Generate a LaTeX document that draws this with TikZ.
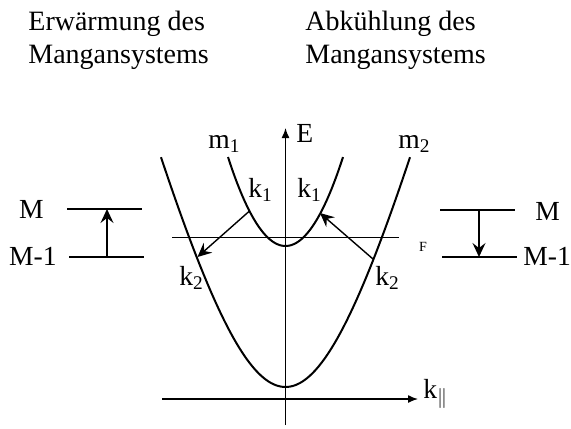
\documentclass[tikz,border=0pt]{standalone}
\usepackage{fontspec}
\setmainfont{Liberation Serif}
\usetikzlibrary{arrows.meta}
\tikzset{
  bandfig/.style={
    x=0.5pt, y=-0.5pt,
    every node/.append style={font=\fontsize{13.8}{16.5}\selectfont, inner sep=0pt},
  },
  band/.style={line width=1pt},
  axis/.style={line width=0.7pt, -{Latex[length=5pt,width=4pt]}},
  fermi/.style={line width=0.5pt},
  level/.style={line width=1pt},
  trans/.style={line width=0.7pt, -{Stealth[length=7pt,width=6.5pt,inset=2.5pt]}},
  heading/.style={align=left, anchor=base west, font=\fontsize{14}{16.5}\selectfont},
  lbl/.style={anchor=base west},
  smalllbl/.style={font=\fontsize{7}{8}\selectfont},
}
\begin{document}
\begin{tikzpicture}[bandfig]
  \useasboundingbox (0,0) rectangle (571,428);
  % Ueberschriften
  \node[heading] (hwarm) at (28,63) {Erwärmung des\\Mangansystems};
  \node[heading] (hcool) at (305,63) {Abkühlung des\\Mangansystems};
  % Achsen
  \coordinate (yb) at (285.5,425);
  \coordinate (yt) at (285.5,128);
  \coordinate (xl) at (162,399);
  \coordinate (xr) at (418,399);
  \draw[axis] (yb) -- (yt);
  \draw[axis] (xl) -- (xr);
  \node[lbl] (Elbl) at (296,142) {E};
  \node[lbl] (klbl) at (423,398) {k\textsubscript{$\|$}};
  % Fermi-Niveau
  \coordinate (fl) at (172,237);
  \coordinate (fr) at (399,237);
  \draw[fermi] (fl) -- (fr);
  \node[smalllbl] (Flbl) at (423,247) {F};
  % Baender
  \draw[band] plot[domain=-57.5:57.5, samples=50] ({285.5+\x}, {246-0.0269*\x*\x});
  \draw[band] plot[domain=-124.5:124.5, samples=80] ({285.5+\x}, {387-385*(sqrt(1+(\x/100)^2)-1)});
  \node[lbl] (m1) at (208,148) {m\textsubscript{1}};
  \node[lbl] (m2) at (398,148) {m\textsubscript{2}};
  % Uebergaenge
  \coordinate (k1l) at (249.5,211);
  \coordinate (k2l) at (197.5,257);
  \coordinate (k1r) at (320,213);
  \coordinate (k2r) at (373,259);
  \draw[trans] (k1l) -- (k2l);
  \draw[trans] (k2r) -- (k1r);
  \node[lbl] (k1ltxt) at (248,197) {k\textsubscript{1}};
  \node[lbl] (k1rtxt) at (297,197) {k\textsubscript{1}};
  \node[lbl] (k2ltxt) at (179,285) {k\textsubscript{2}};
  \node[lbl] (k2rtxt) at (375,285) {k\textsubscript{2}};
  % Niveaus links
  \draw[level] (67,209) coordinate (lMa) -- (142,209) coordinate (lMb);
  \draw[level] (69,257) coordinate (lNa) -- (144,257) coordinate (lNb);
  \coordinate (lup0) at (107,257);
  \coordinate (lup1) at (107,209);
  \draw[trans] (lup0) -- (lup1);
  \node[anchor=base east] (lM) at (44,218) {M};
  \node[anchor=base east] (lN) at (57,265) {M-1};
  % Niveaus rechts
  \draw[level] (440,210) coordinate (rMa) -- (515,210) coordinate (rMb);
  \draw[level] (442,257) coordinate (rNa) -- (517,257) coordinate (rNb);
  \coordinate (rdn0) at (479,210);
  \coordinate (rdn1) at (479,257);
  \draw[trans] (rdn0) -- (rdn1);
  \node[lbl] (rM) at (535,220) {M};
  \node[lbl] (rN) at (523,265) {M-1};
\end{tikzpicture}
\end{document}
